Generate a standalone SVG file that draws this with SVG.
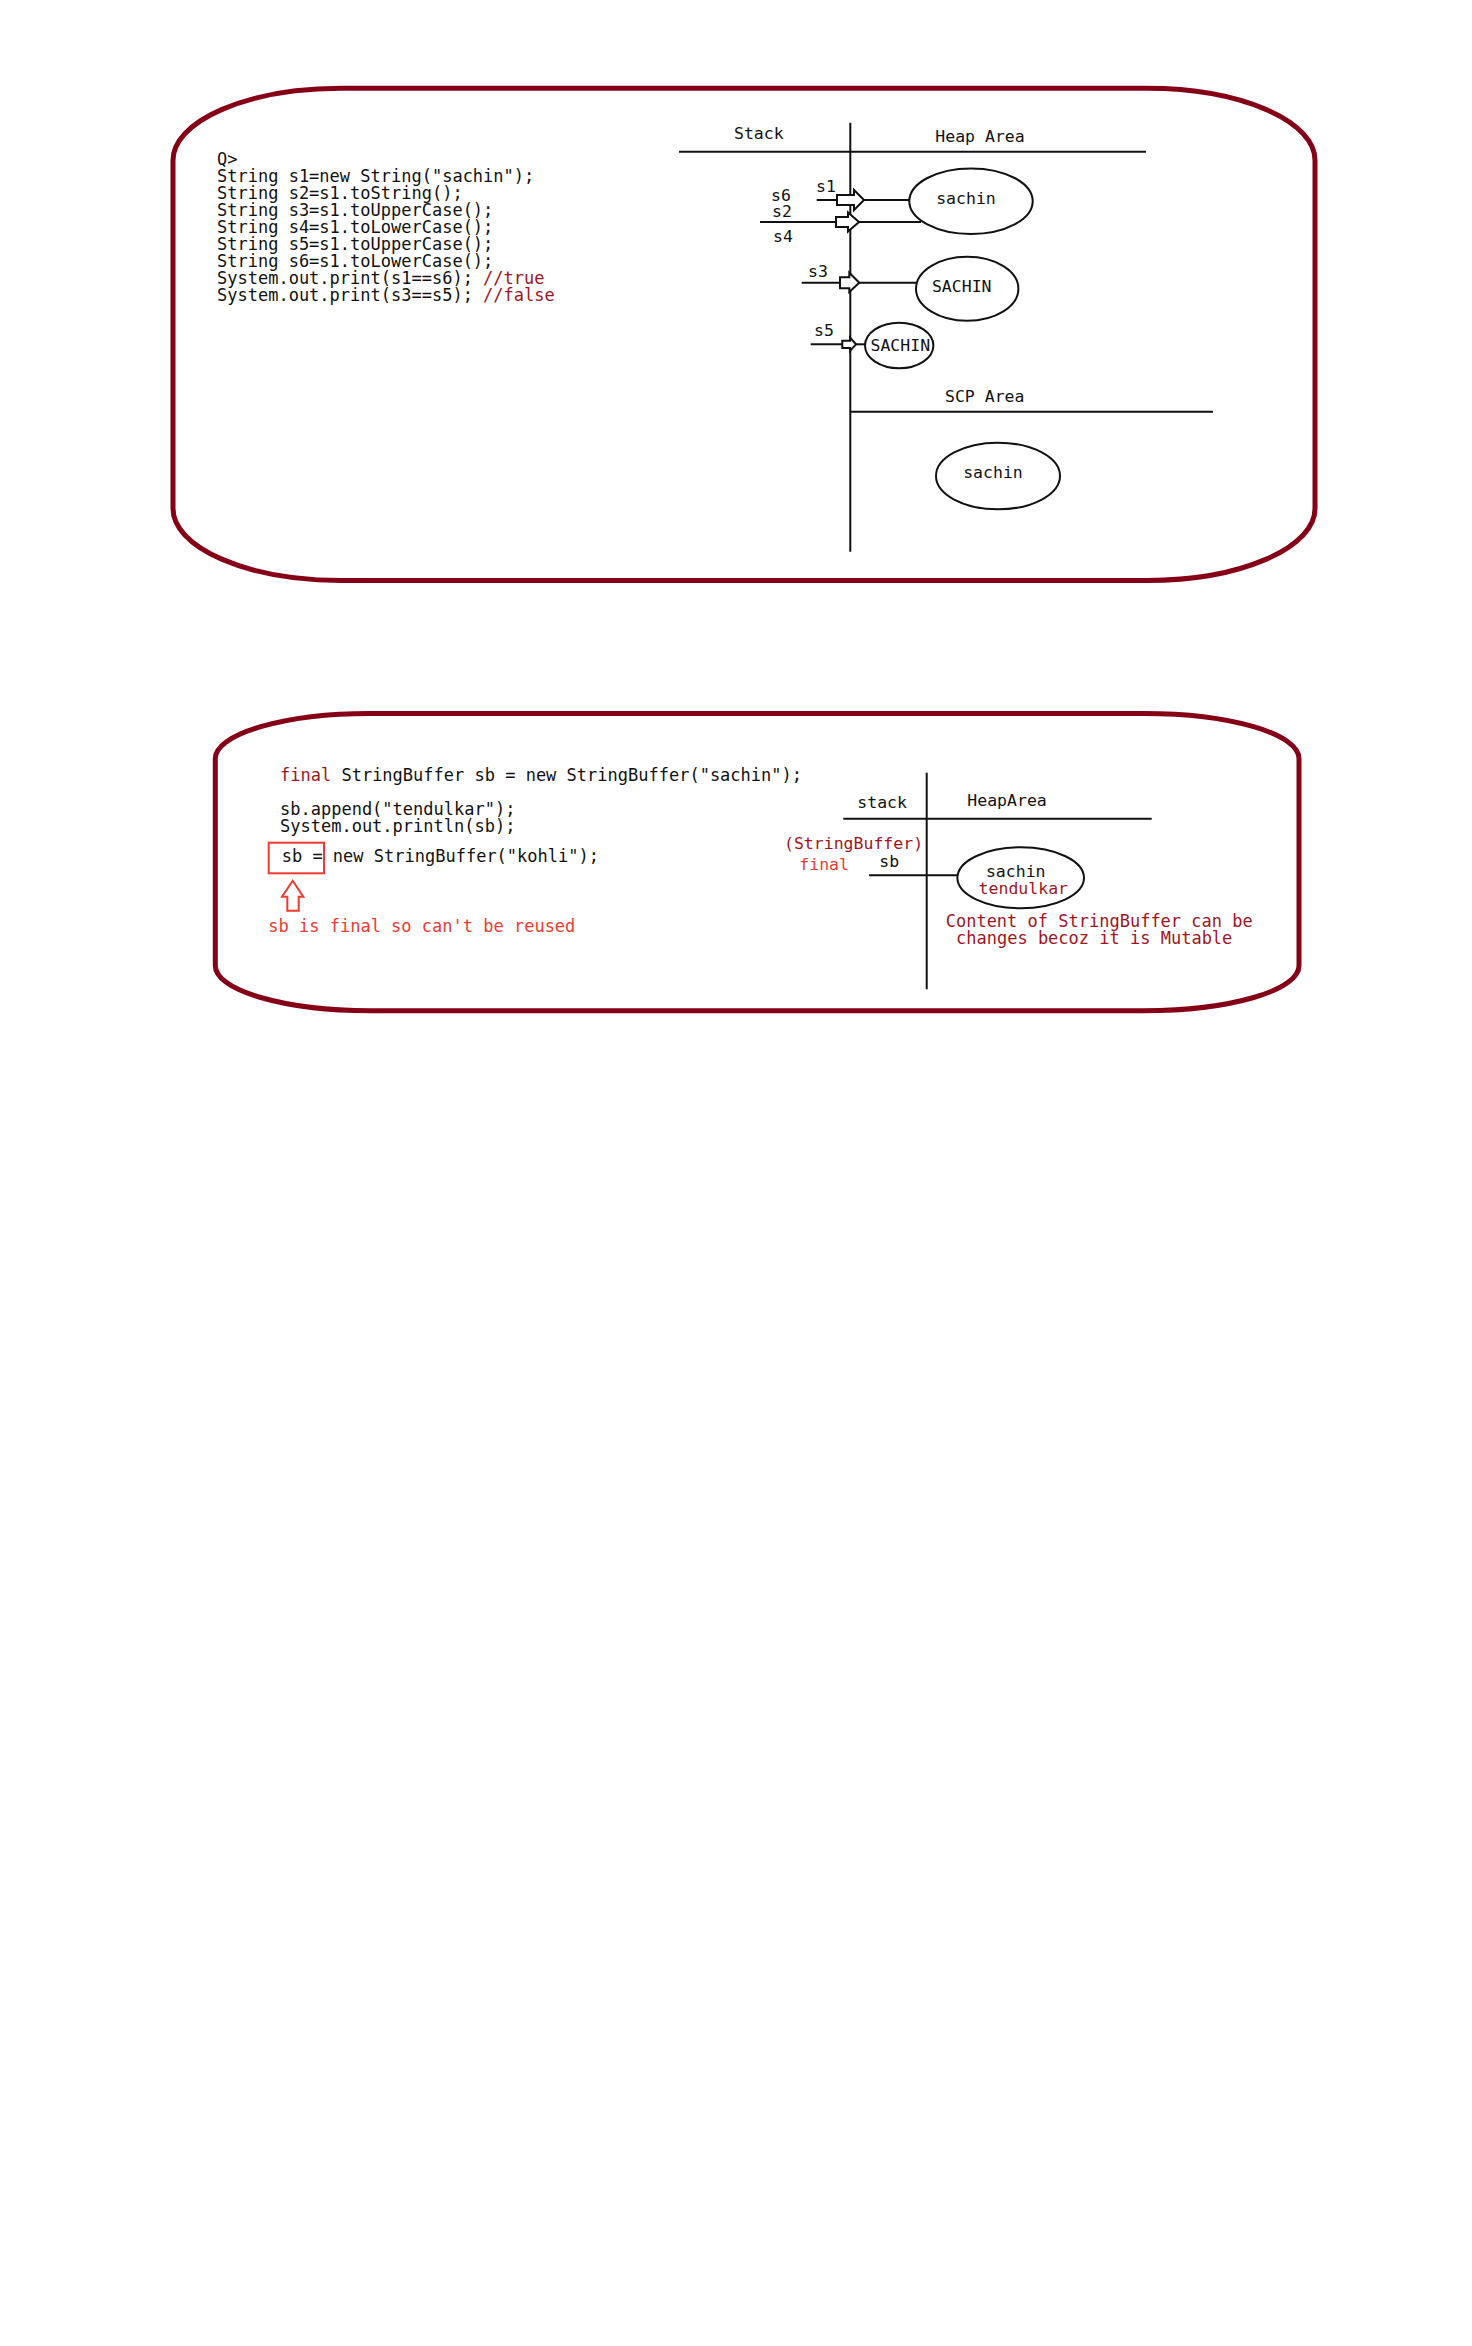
<svg xmlns="http://www.w3.org/2000/svg" width="1472" height="2346" viewBox="0 0 1472 2346">
<style>
.frame{fill:none;stroke:#850016;stroke-width:5}
.ln{stroke:#111;stroke-width:2;fill:none}
.ell{fill:#fff;stroke:#111;stroke-width:2}
.arr{fill:#fff;stroke:#111;stroke-width:2;stroke-linejoin:miter}
.code{font-family:"DejaVu Sans Mono","Liberation Mono",monospace;font-size:17px;fill:#111}
.lbl{font-family:"DejaVu Sans Mono","Liberation Mono",monospace;font-size:16.5px;fill:#111}
.dr{fill:#a0141e}
.br{fill:#ee3a30}
.redbox{fill:none;stroke:#ee3a30;stroke-width:2}
</style>
<rect width="1472" height="2346" fill="#fff"/>

<g id="panel1">
  <rect class="frame" x="173" y="88.3" width="1142" height="492.2" rx="168" ry="72"/>
  <g id="code1" class="code">
    <text x="217" y="164.5">Q&gt;</text>
    <text x="217" y="181.5">String s1=new String("sachin");</text>
    <text x="217" y="198.5">String s2=s1.toString();</text>
    <text x="217" y="215.5">String s3=s1.toUpperCase();</text>
    <text x="217" y="232.5">String s4=s1.toLowerCase();</text>
    <text x="217" y="249.5">String s5=s1.toUpperCase();</text>
    <text x="217" y="266.5">String s6=s1.toLowerCase();</text>
    <text x="217" y="283.5">System.out.print(s1==s6); <tspan class="dr">//true</tspan></text>
    <text x="217" y="300.5">System.out.print(s3==s5); <tspan class="dr">//false</tspan></text>
  </g>
  <g id="memory1-axes">
    <line class="ln" x1="679" y1="151.7" x2="1146" y2="151.7"/>
    <line class="ln" x1="850.3" y1="122.7" x2="850.3" y2="551.7"/>
    <line class="ln" x1="850.3" y1="411.7" x2="1213" y2="411.7"/>
    <text class="lbl" x="734" y="139.3">Stack</text>
    <text class="lbl" x="935.3" y="141.7">Heap Area</text>
    <text class="lbl" x="945" y="402.3">SCP Area</text>
  </g>
  <g id="connectors1">
    <line class="ln" x1="816.7" y1="200" x2="837" y2="200"/>
    <line class="ln" x1="864" y1="200" x2="909" y2="200"/>
    <line class="ln" x1="760" y1="222" x2="921" y2="222"/>
    <line class="ln" x1="801.7" y1="282.7" x2="840" y2="282.7"/>
    <line class="ln" x1="859.3" y1="282.7" x2="916" y2="282.7"/>
    <line class="ln" x1="810.7" y1="344.3" x2="842.3" y2="344.3"/>
    <line class="ln" x1="856" y1="344.3" x2="866" y2="344.3"/>
    <polygon class="arr" points="837,195 854,195 854,190 864,200 854,210 854,205 837,205"/>
    <polygon class="arr" points="836,217 848,217 848,212.5 859,222 848,231.5 848,227 836,227"/>
    <polygon class="arr" points="840,277.3 849.3,277.3 849.3,272.7 859.3,282.7 849.3,292 849.3,288.3 840,288.3"/>
    <polygon class="arr" points="842.3,340.7 850,340.7 850,337.7 856,344.3 850,350.9 850,348 842.3,348"/>
  </g>
  <g id="ref-labels1" class="lbl">
    <text x="816" y="191.7">s1</text>
    <text x="771" y="200.7">s6</text>
    <text x="772" y="216.7">s2</text>
    <text x="773" y="241.7">s4</text>
    <text x="808" y="276.7">s3</text>
    <text x="814" y="336">s5</text>
  </g>
  <g id="heap-sachin">
    <ellipse class="ell" cx="971" cy="201.2" rx="61.7" ry="32.8"/>
    <text class="lbl" x="966" y="204" text-anchor="middle">sachin</text>
  </g>
  <g id="heap-SACHIN-1">
    <ellipse class="ell" cx="967.2" cy="288.7" rx="51.2" ry="32"/>
    <text class="lbl" x="961.7" y="291.7" text-anchor="middle">SACHIN</text>
  </g>
  <g id="heap-SACHIN-2">
    <ellipse class="ell" cx="899.2" cy="345.5" rx="34.2" ry="22.8"/>
    <text class="lbl" x="900.3" y="350.7" text-anchor="middle">SACHIN</text>
  </g>
  <g id="scp-sachin">
    <ellipse class="ell" cx="998" cy="476" rx="62" ry="33.3"/>
    <text class="lbl" x="993" y="478.3" text-anchor="middle">sachin</text>
  </g>
</g>

<g id="panel2">
  <rect class="frame" x="215.3" y="713.5" width="1083.7" height="297.2" rx="155" ry="45"/>
  <g id="code2" class="code">
    <text x="280" y="781"><tspan class="dr">final</tspan> StringBuffer sb = new StringBuffer("sachin");</text>
    <text x="280" y="815">sb.append("tendulkar");</text>
    <text x="280" y="831.7">System.out.println(sb);</text>
    <text x="281.7" y="861.7">sb = new StringBuffer("kohli");</text>
    <text x="268.3" y="932.3" class="br">sb is final so can't be reused</text>
  </g>
  <g id="reuse-marker">
    <rect class="redbox" x="268.7" y="842.7" width="55.3" height="30.6"/>
    <polygon class="redbox" points="292.7,880.7 303.3,896.7 298.7,896.7 298.7,910.7 287.3,910.7 287.3,896.7 282,896.7"/>
  </g>
  <g id="memory2-axes">
    <line class="ln" x1="843.3" y1="818.7" x2="1151.7" y2="818.7"/>
    <line class="ln" x1="926.7" y1="772.7" x2="926.7" y2="989.3"/>
    <text class="lbl" x="857.3" y="808.3">stack</text>
    <text class="lbl" x="967.3" y="806">HeapArea</text>
  </g>
  <g id="connectors2">
    <line class="ln" x1="869" y1="875.3" x2="957.3" y2="875.3"/>
  </g>
  <g id="sb-ref" class="lbl">
    <text x="784" y="849.3" class="dr">(StringBuffer)</text>
    <text x="799.3" y="870" class="br">final</text>
    <text x="879.3" y="866.7">sb</text>
  </g>
  <g id="heap-sb">
    <ellipse class="ell" cx="1020.7" cy="877.8" rx="63.3" ry="30.5"/>
    <text class="lbl" x="1015.7" y="877.3" text-anchor="middle">sachin</text>
    <text class="lbl dr" x="1023.3" y="894" text-anchor="middle">tendulkar</text>
  </g>
  <g id="note2" class="code dr">
    <text x="945.7" y="927.3">Content of StringBuffer can be</text>
    <text x="956" y="944.3">changes becoz it is Mutable</text>
  </g>
</g>
</svg>
